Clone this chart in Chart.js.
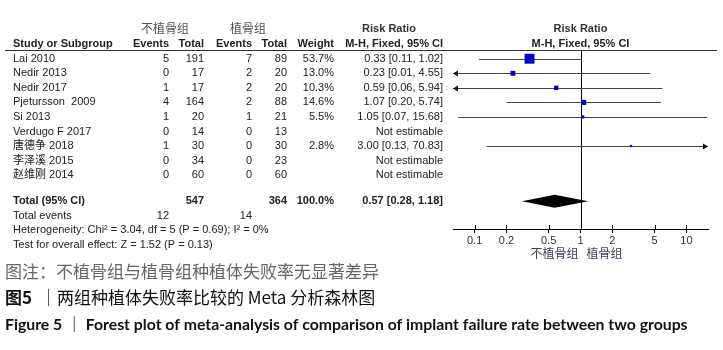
<!DOCTYPE html>
<html>
<head>
<meta charset="utf-8">
<script src="https://cdn.jsdelivr.net/npm/chart.js@4.4.0/dist/chart.umd.min.js"></script>
<style>
  body { margin: 0; background: #fff; }
  canvas { display: block; }
</style>
</head>
<body>
<canvas id="forest" width="723" height="350"></canvas>
<script>
// study data
const studyNames = ['Lai 2010', 'Nedir 2013', 'Nedir 2017', 'Pjetursson  2009', 'Si 2013',
  'Verdugo F 2017', '唐德争 2018', '李泽溪 2015', '赵维刚 2014'];
const events1 = [5, 0, 1, 4, 1, 0, 1, 0, 0];
const total1 = [191, 17, 17, 164, 20, 14, 30, 34, 60];
const events2 = [7, 2, 2, 2, 1, 0, 0, 0, 0];
const total2 = [89, 20, 20, 88, 21, 13, 30, 23, 60];
const weights = [53.7, 13.0, 10.3, 14.6, 5.5, null, 2.8, null, null];
const riskRatio = [0.33, 0.23, 0.59, 1.07, 1.05, null, 3.00, null, null];
const ciLower = [0.11, 0.01, 0.06, 0.20, 0.07, null, 0.13, null, null];
const ciUpper = [1.02, 4.55, 5.94, 5.74, 15.68, null, 70.83, null, null];
const pooled = [0.57, 0.28, 1.18]; // rr, lower, upper
const xTicks = [0.1, 0.2, 0.5, 1, 2, 5, 10];
const groupNames = ['不植骨组', '植骨组'];

const TOTAL_ROW = 9.8;
const sum = arr => arr.reduce((a, b) => a + b, 0);
const rrLabel = (r, lo, hi) => r == null ? 'Not estimable'
  : r.toFixed(2) + ' [' + lo.toFixed(2) + ', ' + hi.toFixed(2) + ']';

const boxes = [];
riskRatio.forEach((r, i) => {
  if (r != null) boxes.push({ x: r, y: i, w: weights[i] });
});

const FONT = '"Liberation Sans", Arial, "Noto Sans CJK SC", sans-serif';

const forestPlugin = {
  id: 'forest',
  beforeDatasetsDraw(chart) {
    const { ctx, chartArea } = chart;
    const xs = chart.scales.x, ys = chart.scales.y;
    ctx.save();
    // header rule
    ctx.strokeStyle = '#333';
    ctx.lineWidth = 1;
    ctx.beginPath();
    ctx.moveTo(5, 50.5);
    ctx.lineTo(717, 50.5);
    ctx.stroke();
    // line of no effect
    const x1 = Math.round(xs.getPixelForValue(1)) + 0.5;
    ctx.strokeStyle = '#000';
    ctx.beginPath();
    ctx.moveTo(x1, 50);
    ctx.lineTo(x1, chartArea.bottom);
    ctx.stroke();
    // confidence intervals
    riskRatio.forEach((r, i) => {
      if (r == null) return;
      const y = Math.round(ys.getPixelForValue(i)) + 0.5;
      const lo = Math.max(ciLower[i], xs.min), hi = Math.min(ciUpper[i], xs.max);
      const px0 = xs.getPixelForValue(lo), px1 = xs.getPixelForValue(hi);
      ctx.strokeStyle = '#444';
      ctx.beginPath();
      ctx.moveTo(px0, y);
      ctx.lineTo(px1, y);
      ctx.stroke();
      ctx.fillStyle = '#111';
      if (ciLower[i] < xs.min) {
        ctx.beginPath();
        ctx.moveTo(px0, y);
        ctx.lineTo(px0 + 5, y - 3);
        ctx.lineTo(px0 + 5, y + 3);
        ctx.closePath();
        ctx.fill();
      }
      if (ciUpper[i] > xs.max) {
        ctx.beginPath();
        ctx.moveTo(px1, y);
        ctx.lineTo(px1 - 5, y - 3);
        ctx.lineTo(px1 - 5, y + 3);
        ctx.closePath();
        ctx.fill();
      }
    });
    // pooled diamond
    const yc = ys.getPixelForValue(TOTAL_ROW);
    const hh = 6.5;
    ctx.fillStyle = '#000';
    ctx.beginPath();
    ctx.moveTo(xs.getPixelForValue(pooled[1]), yc);
    ctx.lineTo(xs.getPixelForValue(pooled[0]), yc - hh);
    ctx.lineTo(xs.getPixelForValue(pooled[2]), yc);
    ctx.lineTo(xs.getPixelForValue(pooled[0]), yc + hh);
    ctx.closePath();
    ctx.fill();
    // upper half of the tick marks
    ctx.strokeStyle = '#000';
    xTicks.forEach(v => {
      const px = Math.round(xs.getPixelForValue(v)) + 0.5;
      ctx.beginPath();
      ctx.moveTo(px, chartArea.bottom - 4);
      ctx.lineTo(px, chartArea.bottom);
      ctx.stroke();
    });
    ctx.restore();
  },
  afterDraw(chart) {
    const { ctx } = chart;
    const xs = chart.scales.x, ys = chart.scales.y;
    const rowY = v => ys.getPixelForValue(v);
    const text = (s, x, y, align, font, color) => {
      ctx.font = font;
      ctx.fillStyle = color || '#222';
      ctx.textAlign = align;
      ctx.fillText(s, x, y);
    };
    const reg = '11px ' + FONT, bold = 'bold 11px ' + FONT;
    ctx.save();
    ctx.textBaseline = 'middle';
    const cols = { ev1: 169, n1: 204, ev2: 252, n2: 287, w: 334, rr: 443 };
    // group headers
    const hy0 = rowY(-2.05), hy1 = rowY(-1.02);
    text(groupNames[0], 165, hy0, 'center', '12px "Noto Sans CJK SC", sans-serif', '#555');
    text(groupNames[1], 248, hy0, 'center', '12px "Noto Sans CJK SC", sans-serif', '#555');
    text('Risk Ratio', 389, hy0, 'center', bold, '#333');
    text('Risk Ratio', xs.getPixelForValue(1), hy0, 'center', bold, '#333');
    text('Study or Subgroup', 13, hy1, 'left', bold, '#222');
    text('Events', cols.ev1, hy1, 'right', bold, '#222');
    text('Total', cols.n1, hy1, 'right', bold, '#222');
    text('Events', cols.ev2, hy1, 'right', bold, '#222');
    text('Total', cols.n2, hy1, 'right', bold, '#222');
    text('Weight', cols.w, hy1, 'right', bold, '#222');
    text('M-H, Fixed, 95% CI', cols.rr, hy1, 'right', bold, '#222');
    text('M-H, Fixed, 95% CI', xs.getPixelForValue(1), hy1, 'center', bold, '#222');
    // study rows
    studyNames.forEach((name, i) => {
      const y = rowY(i);
      text(name, 13, y, 'left', reg);
      text(String(events1[i]), cols.ev1, y, 'right', reg);
      text(String(total1[i]), cols.n1, y, 'right', reg);
      text(String(events2[i]), cols.ev2, y, 'right', reg);
      text(String(total2[i]), cols.n2, y, 'right', reg);
      if (weights[i] != null) text(weights[i].toFixed(1) + '%', cols.w, y, 'right', reg);
      text(rrLabel(riskRatio[i], ciLower[i], ciUpper[i]), cols.rr, y, 'right', reg);
    });
    // totals
    const ty = rowY(TOTAL_ROW);
    text('Total (95% CI)', 13, ty, 'left', bold);
    text(String(sum(total1)), cols.n1, ty, 'right', bold);
    text(String(sum(total2)), cols.n2, ty, 'right', bold);
    text('100.0%', cols.w, ty, 'right', bold);
    text(rrLabel(pooled[0], pooled[1], pooled[2]), cols.rr, ty, 'right', bold);
    const ey = rowY(10.78);
    text('Total events', 13, ey, 'left', reg);
    text(String(sum(events1)), cols.ev1, ey, 'right', reg);
    text(String(sum(events2)), cols.ev2, ey, 'right', reg);
    text('Heterogeneity: Chi² = 3.04, df = 5 (P = 0.69); I² = 0%', 13, rowY(11.8), 'left', reg);
    text('Test for overall effect: Z = 1.52 (P = 0.13)', 13, rowY(12.82), 'left', reg);
    // favours labels under the axis
    const x1 = xs.getPixelForValue(1);
    const cjk = '12px "Noto Sans CJK SC", sans-serif';
    text(groupNames[0], x1 - 2, 253, 'right', cjk, '#3b3f63');
    text(groupNames[1], x1 + 6, 253, 'left', cjk, '#3b3f63');
    // figure captions
    text('图注：不植骨组与植骨组种植体失败率无显著差异', 5, 272, 'left', '17px "Noto Sans CJK SC", sans-serif', '#666');
    ctx.font = 'bold 17px "Noto Sans CJK SC", sans-serif';
    ctx.fillStyle = '#111';
    ctx.textAlign = 'left';
    ctx.fillText('图5', 5, 298);
    text('｜两组种植体失败率比较的 Meta 分析森林图', 40, 298, 'left', '17px "Noto Sans CJK SC", sans-serif', '#111');
    text('Figure 5 ｜ Forest plot of meta-analysis of comparison of implant failure rate between two groups',
      5, 325, 'left', 'bold 15.8px Lato, "Noto Sans CJK SC", sans-serif', '#111');
    ctx.restore();
  }
};

new Chart(document.getElementById('forest'), {
  type: 'scatter',
  data: {
    datasets: [{
      data: boxes,
      backgroundColor: '#0000c8',
      borderWidth: 0,
      pointStyle: 'rect',
      pointRadius: ctx => {
        const w = ctx.raw && ctx.raw.w;
        return Math.max(1.2, 7 * Math.sqrt(w / 53.7));
      },
      pointHoverRadius: ctx => Math.max(1.2, 7 * Math.sqrt(ctx.raw.w / 53.7))
    }]
  },
  options: {
    responsive: false,
    animation: false,
    events: [],
    layout: {
      autoPadding: false,
      padding: { left: 453, right: 15, top: 50, bottom: 101 }
    },
    plugins: { legend: { display: false }, tooltip: { enabled: false } },
    scales: {
      x: {
        type: 'logarithmic',
        min: 1 / 16,
        max: 16,
        afterBuildTicks: s => { s.ticks = xTicks.map(v => ({ value: v })); },
        afterFit: s => { s.height = 20; },
        grid: { drawOnChartArea: false, tickLength: 4, color: '#000' },
        border: { color: '#000', width: 1 },
        ticks: {
          padding: 1,
          autoSkip: false,
          maxRotation: 0,
          color: '#333',
          font: { family: FONT, size: 11 },
          callback: v => String(v)
        }
      },
      y: {
        type: 'linear',
        display: false,
        reverse: true,
        min: -0.6,
        max: 11.7
      }
    }
  },
  plugins: [forestPlugin]
});
</script>
</body>
</html>
